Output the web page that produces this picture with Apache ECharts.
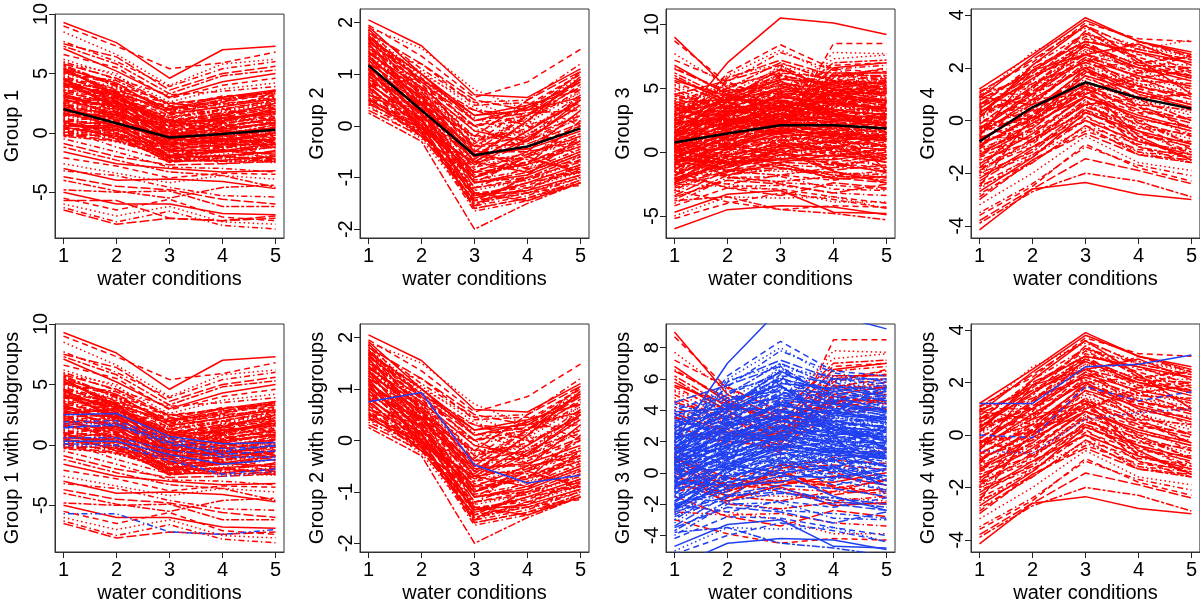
<!DOCTYPE html>
<html>
<head>
<meta charset="utf-8">
<script src="https://cdn.jsdelivr.net/npm/echarts@6/dist/echarts.min.js"></script>
<style>
html,body{margin:0;padding:0;background:#fff;}
#chart{width:1200px;height:607px;}
</style>
</head>
<body>
<div id="chart"></div>
<script>
// ---------------- data ----------------
const xValues = [1, 2, 3, 4, 5];
const xLabel = 'water conditions';
const panelTitles = ['Group 1', 'Group 2', 'Group 3', 'Group 4',
  'Group 1 with subgroups', 'Group 2 with subgroups', 'Group 3 with subgroups', 'Group 4 with subgroups'];

const yTicksG1 = [-5, 0, 5, 10];
const yTicksG2 = [-2, -1, 0, 1, 2];
const yTicksG3 = [-5, 0, 5, 10];
const yTicksG4 = [-4, -2, 0, 2, 4];
const yTicksG3Sub = [-4, -2, 0, 2, 4, 6, 8];

// Group 1 profiles (not in subgroups)
const group1Lines = [
  [9.3,7.6,4.6,7.0,7.3],[9.0,7.3,5.4,5.9,6.8],[8.5,6.6,4.0,5.8,6.2],[7.7,6.0,3.9,5.4,6.0],
  [7.5,6.4,3.6,5.0,5.6],[7.3,5.8,3.3,4.8,5.3],[7.1,5.2,3.0,4.3,5.0],[6.6,5.5,2.9,4.0,4.6],
  [6.2,4.8,2.6,3.7,4.2],[6.0,4.5,3.2,3.5,3.9],
  [5.8,4.6,2.4,3.0,3.4],[5.6,3.9,2.0,2.6,3.6],[5.4,4.2,1.6,2.2,2.9],[5.2,3.6,2.2,3.1,3.3],
  [5.0,3.8,1.4,1.8,2.5],[4.8,3.2,1.8,2.4,3.0],[4.6,3.4,1.0,1.5,2.2],[4.4,2.9,1.3,2.0,2.7],
  [4.2,3.1,0.8,1.2,1.8],[4.0,2.6,1.1,1.6,2.4],[3.8,2.8,0.5,0.9,1.5],[3.6,2.3,0.9,1.4,2.0],
  [3.4,2.5,0.2,0.6,1.2],[3.2,2.0,0.6,1.1,1.7],[3.0,2.2,-0.1,0.3,0.9],[2.8,1.7,0.3,0.8,1.4],
  [2.6,1.9,-0.4,0.0,0.6],[2.4,1.4,0.0,0.5,1.1],[2.2,1.6,-0.7,-0.3,0.3],[2.0,1.1,-0.3,0.2,0.8],
  [1.8,1.3,-1.0,-0.6,0.0],[1.6,0.8,-0.6,-0.1,0.5],[1.4,1.0,-1.3,-0.9,-0.3],[1.2,0.5,-0.9,-0.4,0.2],
  [1.0,0.7,-1.6,-1.2,-0.6],[0.8,0.2,-1.2,-0.7,-0.1],[0.6,0.4,-1.9,-1.5,-0.9],[0.4,-0.1,-1.5,-1.0,-0.4],
  [0.2,0.1,-2.2,-1.8,-1.2],[0.0,-0.4,-1.8,-1.3,-0.7],[-0.2,-0.2,-2.5,-2.1,-1.5],[-0.3,-0.7,-2.1,-1.6,-1.0],
  [5.5,3.0,-0.5,1.0,2.0],[3.5,1.0,-2.0,-1.0,0.5],[1.5,2.5,1.5,2.8,3.5],[0.5,1.5,0.8,2.0,2.8],
  [4.5,2.0,-1.0,-0.5,-0.8],[2.5,0.0,-2.3,-2.4,-2.3],[1.0,-0.5,-1.0,1.5,2.5],[3.9,3.5,2.5,2.0,1.0],
  [5.9,5.0,1.2,0.5,-0.5],[0.3,-1.2,-2.4,-1.9,-2.5],[2.3,2.5,1.0,1.0,-1.5],
  [5.7,4.0,1.9,2.8,3.5],[5.3,3.3,0.5,1.2,1.6],[5.1,4.1,2.5,2.9,3.1],[4.9,3.0,0.2,0.8,1.3],
  [4.7,3.7,2.1,2.7,3.4],[4.5,2.7,-0.3,0.4,0.8],[4.3,3.5,1.7,2.5,2.8],[4.1,2.4,-0.6,0.0,0.4],
  [3.9,3.0,1.5,2.2,3.2],[3.7,2.1,-0.9,-0.3,0.1],[3.5,2.9,1.2,1.9,2.6],[3.3,1.8,-1.2,-0.7,-0.2],
  [3.1,2.6,0.9,1.7,2.3],[2.9,1.5,-1.4,-1.0,-0.5],[2.7,2.3,0.7,1.3,2.1],[2.5,1.2,-1.7,-1.3,-0.9],
  [2.3,2.0,0.4,1.0,1.9],[2.1,0.9,-1.9,-1.6,-1.2],[1.9,1.8,0.1,0.7,1.6],[1.7,0.6,-2.1,-1.9,-1.6],
  [1.5,1.5,-0.2,0.4,1.3],[1.3,0.3,-2.3,-2.2,-1.9],[1.1,1.2,-0.5,0.1,1.0],[0.9,0.0,-2.0,-2.0,-2.2],
  [0.7,0.9,-0.8,-0.2,0.7],[0.5,-0.3,-2.4,-2.3,-2.0],[0.3,0.6,-1.1,-0.5,0.4],[0.1,-0.5,-2.3,-2.0,-1.7],
  [-0.1,0.3,-1.4,-0.8,0.1],[-0.2,-0.6,-2.0,-1.4,-2.2],[5.0,4.4,2.3,1.5,0.6],[4.0,3.3,2.0,3.0,3.6],
  [3.0,2.7,1.9,2.6,3.3],[2.0,2.2,1.3,2.3,3.0],[1.0,1.4,0.6,1.5,2.2],[0.0,0.8,-0.3,0.9,1.8],
  [5.4,3.4,0.0,-0.5,-1.0],[4.2,2.2,-1.5,-1.5,-1.8],[3.2,1.4,-2.2,-2.0,-2.4],[2.2,0.5,-2.5,-1.2,-0.2],
  [1.2,-0.2,-1.7,0.5,1.2],[4.6,2.5,-0.8,-1.2,-0.6],[3.6,3.2,0.0,-0.2,-1.3],[2.6,2.9,1.0,0.2,-0.9],
  [1.6,1.0,-0.1,-0.9,-2.0],[0.6,-0.8,-1.6,-2.4,-2.5],
  [-0.5,-1.6,-2.9,-3.0,-3.3],[-0.9,-2.0,-2.7,-2.6,-2.4],[-1.2,-2.3,-3.3,-3.6,-4.6],[-1.6,-2.6,-3.0,-3.3,-3.2],
  [-2.1,-2.8,-3.8,-3.4,-3.5],[-2.6,-3.4,-4.2,-3.6,-3.9],[-3.2,-3.6,-4.6,-5.3,-5.4],[-3.7,-4.5,-4.8,-5.6,-6.0],
  [-4.8,-5.0,-4.9,-6.2,-6.2],[-5.0,-6.0,-6.0,-6.8,-6.9],[-5.5,-6.5,-5.6,-7.1,-7.4],[-6.0,-7.0,-6.2,-7.5,-7.7],
  [-6.3,-7.5,-6.6,-7.8,-8.1],[-6.5,-7.7,-7.2,-7.4,-7.2],[-4.0,-4.9,-5.5,-4.6,-4.4],[-3.0,-4.0,-3.9,-4.1,-4.7]
];
const group1SubLines = [
  [2.5,2.6,0.7,0.1,0.2],[1.9,2.0,0.5,-0.3,-0.1],[1.7,1.8,0.3,-0.5,-0.1],[1.5,1.6,0.0,-0.6,0.0],
  [1.4,1.7,0.2,-0.8,-0.5],[0.6,0.6,-0.4,-1.0,-1.0],[0.3,0.3,-0.8,-1.6,-1.2],[0.1,0.0,-1.3,-2.4,-2.0],
  [-0.1,-0.1,-1.0,-2.6,-2.2],[-5.7,-5.7,-7.2,-7.4,-7.0]
];
const group1Mean = [2.0, 0.8, -0.4, -0.1, 0.25];

// Group 2
const group2Lines = [
  [2.05,1.55,0.6,0.55,1.1],[1.95,1.35,0.55,0.85,1.48],[1.9,1.5,0.7,0.3,0.5],[1.85,1.1,0.45,0.5,1.2],
  [1.8,1.2,0.5,0.3,0.9],[1.75,0.9,0.3,0.2,1.05],[1.7,1.0,0.2,0.4,0.7],[1.65,0.8,0.0,0.1,0.8],
  [1.6,1.05,0.35,0.0,0.4],[1.55,0.7,-0.2,-0.1,0.6],[1.5,0.85,0.1,0.25,0.3],[1.45,0.6,-0.4,-0.2,0.2],
  [1.4,0.75,-0.1,-0.3,0.5],[1.35,0.5,-0.6,-0.4,0.0],[1.3,0.65,-0.3,0.05,0.1],[1.25,0.4,-0.8,-0.6,-0.2],
  [1.2,0.55,-0.5,-0.5,-0.3],[1.15,0.3,-1.0,-0.7,-0.4],[1.1,0.45,-0.7,-0.9,-0.5],[1.05,0.2,-1.2,-1.0,-0.7],
  [1.0,0.35,-0.9,-0.8,-0.6],[0.95,0.1,-1.3,-1.2,-0.8],[0.9,0.25,-1.1,-0.6,-0.9],[0.85,0.0,-1.5,-1.3,-1.0],
  [0.8,0.15,-1.4,-1.1,-0.75],[0.75,-0.05,-1.6,-1.4,-1.1],[0.7,0.05,-1.25,-0.4,0.2],[0.65,-0.1,-1.65,-1.45,-1.05],
  [0.6,0.1,-1.1,-0.9,-0.5],[0.55,-0.2,-1.45,-1.0,-0.6],[0.5,-0.05,-0.9,-0.5,0.3],[0.45,-0.15,-1.3,-1.3,-1.15],
  [0.4,-0.25,-1.55,-1.2,-0.9],[0.35,-0.1,-0.8,-0.3,0.6],[0.3,-0.2,-1.0,-0.7,-0.3],[0.25,-0.3,-2.0,-1.5,-1.1],
  [1.6,0.4,-0.6,0.1,0.95],[1.0,0.6,0.0,0.35,1.0],[1.3,0.9,0.15,-0.2,-0.7],[0.9,0.5,-0.2,-0.3,0.25],
  [1.7,0.2,-0.9,-0.75,0.1],[0.6,0.3,-0.4,0.2,0.75],[1.2,-0.1,-1.35,-1.25,-0.95],[1.4,1.2,0.4,0.45,0.0],
  [0.8,0.7,-0.3,-0.1,-0.45],[1.85,0.6,-0.7,-0.2,0.55],[1.1,0.0,-1.55,-0.95,-0.2],[0.5,0.45,-0.6,-0.65,-0.85],
  [1.92,1.0,0.1,0.35,0.85],[1.88,0.8,-0.3,-0.05,0.45],[1.82,0.95,-0.1,0.15,0.65],[1.78,0.7,-0.5,-0.3,0.15],
  [1.72,0.85,0.0,0.2,0.9],[1.68,0.6,-0.7,-0.55,-0.15],[1.62,0.9,0.2,0.3,0.55],[1.58,0.5,-0.85,-0.7,-0.35],
  [1.52,0.75,-0.25,-0.15,0.35],[1.48,0.45,-1.05,-0.85,-0.45],[1.42,0.65,-0.4,-0.35,0.05],[1.38,0.35,-1.2,-1.05,-0.65],
  [1.32,0.55,-0.55,-0.45,-0.1],[1.28,0.25,-1.35,-1.15,-0.8],[1.22,0.45,-0.75,-0.6,-0.25],[1.18,0.15,-1.45,-1.3,-0.95],
  [1.12,0.35,-0.95,-0.75,-0.4],[1.08,0.05,-1.6,-1.4,-1.05],[1.02,0.25,-1.1,-0.95,-0.55],[0.98,0.0,-1.5,-1.2,-0.85],
  [0.92,0.15,-1.25,-1.05,-0.7],[0.88,-0.1,-1.55,-1.35,-1.0],[0.82,0.1,-1.0,-0.55,-0.2],[0.78,-0.15,-1.35,-1.1,-0.9],
  [0.72,0.0,-0.75,-0.25,0.4],[0.68,-0.2,-1.45,-1.25,-0.75],[0.62,0.05,-0.6,0.05,0.65],[0.58,-0.15,-1.2,-0.8,-0.3],
  [0.52,0.0,-0.5,0.2,0.85],[0.48,-0.2,-1.0,-0.6,0.0],[0.42,-0.05,-0.7,-0.1,0.5],[1.75,0.55,-0.35,0.4,1.0],
  [1.45,0.35,-0.45,0.3,0.95],[1.15,0.2,-0.65,0.1,0.7],[0.95,0.4,-0.2,0.5,1.05],[1.55,0.3,-1.1,-1.0,-0.9],
  [1.35,0.1,-1.3,-1.45,-1.1],[1.25,0.7,0.3,0.0,-0.6],[1.65,1.0,0.45,0.1,-0.3],[0.85,0.45,0.0,-0.45,-1.0]
];
const group2SubLines = [
  [0.75,0.93,-0.48,-0.83,-0.68]
];
const group2Mean = [1.17, 0.3, -0.57, -0.4, -0.05];

// Group 3 profiles outside the subgroups
const group3OtherLines = [
  [9.0,5.0,3.5,4.5,4.0],[8.7,5.4,4.0,5.5,5.0],[7.7,5.2,4.5,7.3,7.6],[6.6,4.6,3.0,6.0,6.5],
  [6.5,4.8,2.5,5.5,6.0],[6.2,4.2,3.8,7.0,7.2],[5.8,4.0,2.0,5.0,5.5],[5.5,3.8,1.2,8.5,8.5],
  [5.2,3.5,3.6,7.8,7.7],[4.8,3.2,2.8,6.5,6.8],[4.5,3.6,2.2,4.8,5.2],[4.2,3.0,1.5,4.2,4.6],
  [3.8,2.6,1.8,6.2,6.2],[3.5,2.4,2.5,5.8,6.6],[3.2,2.8,1.0,4.0,4.2],[2.8,2.2,3.0,5.2,5.8],
  [2.5,2.0,1.6,3.8,4.1],[6.0,3.9,2.6,5.6,5.4],[5.6,4.4,3.2,6.6,7.0],[5.0,3.3,2.4,6.0,6.3],
  [4.6,3.1,1.9,5.3,5.6],[4.0,2.7,2.2,4.5,5.0],[3.6,2.2,1.4,4.9,4.4],[3.0,1.8,2.6,4.4,4.8],
  [6.8,4.5,3.3,4.6,4.6],[7.2,5.5,3.9,6.8,7.0],[5.3,4.0,4.2,5.9,6.0],
  [0.5,-1.2,-0.3,1.0,1.5],[0.0,-1.5,0.3,0.5,0.2],[1.0,-1.0,0.0,-1.0,-0.5],[-0.5,-1.8,-0.8,-0.2,-0.8],
  [0.8,-0.5,0.5,0.0,-0.6],[-1.0,-1.4,-1.5,-1.6,-1.8],[1.5,-0.8,-1.0,-1.2,-1.3],[-0.3,-0.9,0.2,-1.4,-1.0],
  [1.2,-1.6,0.5,0.8,0.6],[0.3,-0.8,-0.5,-0.6,0.0],[-0.8,-1.2,0.0,-0.9,-1.2],[0.6,-1.9,-0.2,0.4,-0.2],
  [-1.2,-0.6,-1.2,-1.8,-1.5],[1.8,-1.1,-0.6,-0.8,-1.6],[-0.2,-1.5,-1.8,-1.2,-0.4],[0.9,-0.3,-0.9,-2.1,-1.9],
  [-3.0,-3.9,-4.5,-4.2,-4.3],[-2.0,-2.5,-3.0,-3.9,-3.9],[-2.5,-2.7,-2.6,-3.2,-3.4],[-1.5,-2.8,-3.4,-2.4,-2.8],
  [0.2,-2.0,-2.3,-1.9,-2.0]
];
// Group 3 profiles inside the subgroups
const group3SubLines = [
  [2.0,7.0,10.5,10.1,9.2],[1.5,6.2,8.4,6.5,6.2],[1.0,6.0,8.0,6.0,5.5],[2.5,5.5,7.8,6.4,5.8],
  [0.5,5.8,7.2,6.0,6.0],[3.0,5.0,7.0,5.5,5.3],
  [-4.7,-3.3,-3.0,-4.7,-4.8],[-4.2,-2.8,-2.9,-3.5,-4.0],[-5.0,-3.5,-3.6,-3.5,-4.4],[-4.0,-2.0,-1.9,-2.9,-3.0],
  [-3.5,-2.2,-2.5,-3.2,-2.5],[-3.8,-3.5,-4.5,-4.8,-5.3],[-6.0,-4.5,-4.2,-4.3,-4.9],[-5.2,-4.0,-3.2,-3.7,-4.4],
  [3.5,4.5,5.8,4.8,4.2],[3.0,4.0,6.5,5.6,5.0],[2.8,4.8,5.2,4.0,3.5],[2.6,3.6,6.0,5.2,5.6],
  [2.4,4.2,4.8,4.4,3.8],[2.2,3.2,5.5,3.8,4.5],[2.0,3.8,4.4,5.0,3.0],[1.8,2.8,5.0,4.2,4.0],
  [1.6,3.4,4.0,3.4,2.6],[1.4,2.4,4.6,3.0,3.6],[1.2,3.0,3.6,4.0,3.2],[1.0,2.0,4.2,2.8,2.4],
  [0.9,2.6,3.2,3.6,2.8],[0.8,1.6,3.8,2.4,3.0],[0.6,2.2,2.8,3.2,2.0],[0.5,1.2,3.4,2.0,2.6],
  [0.4,1.8,2.4,2.8,1.6],[0.2,0.8,3.0,1.6,2.2],[0.0,1.4,2.0,2.4,1.2],[-0.2,0.4,2.6,1.2,1.8],
  [-0.4,1.0,1.6,2.0,0.8],[-0.6,0.0,2.2,0.8,1.4],[-0.8,0.6,1.2,1.6,0.4],[-1.0,-0.4,1.8,0.4,1.0],
  [-1.2,0.2,0.8,1.2,0.0],[-1.5,-0.8,1.4,0.0,0.6],[-1.8,-0.2,0.4,0.8,-0.4],[-2.1,-1.2,1.0,-0.4,0.2],
  [-2.4,-0.6,0.0,0.4,-0.8],[-2.8,-1.6,0.6,-0.8,-0.2],[-3.2,-1.0,-0.4,0.0,-1.2],[4.0,5.2,6.2,5.8,4.8],
  [4.5,5.6,6.8,4.6,5.2],[3.8,2.0,3.0,1.8,1.0],[1.2,4.6,5.6,3.0,2.0],[0.2,3.0,4.5,4.6,5.4],
  [-0.5,2.5,3.5,5.4,5.8],[2.0,1.0,1.5,3.5,4.8],[-1.0,1.5,4.8,2.5,-1.5],[0.8,-1.5,-1.0,-1.8,-2.2],
  [1.8,0.5,0.0,-1.5,-2.4],[-2.0,-2.5,-1.8,-2.2,-1.6],[3.0,1.5,2.0,0.5,-0.5],[0.0,3.5,6.3,2.0,1.5],
  [1.1,4.0,5.3,5.1,4.6],[-0.3,2.2,3.9,3.3,3.4],[2.3,2.6,2.2,1.4,1.1],[-1.4,0.9,2.9,2.6,2.2],
  [4.2,4.8,5.4,4.4,3.6],[3.8,3.6,4.9,5.0,4.4],[3.3,4.3,6.1,4.6,3.9],[3.1,3.2,4.3,3.7,3.1],
  [2.9,4.1,5.7,5.4,4.9],[2.7,3.0,3.9,3.2,2.9],[2.5,3.7,5.1,4.7,4.3],[2.3,2.7,3.7,2.9,2.5],
  [2.1,3.5,4.7,4.1,4.1],[1.9,2.5,3.3,2.6,2.1],[1.7,3.1,4.3,3.8,3.5],[1.5,2.2,3.1,2.3,1.9],
  [1.3,2.8,3.9,3.5,3.3],[1.1,1.9,2.7,2.1,1.6],[0.9,2.4,3.6,3.1,3.0],[0.7,1.6,2.5,1.8,1.3],
  [0.6,2.1,3.3,2.9,2.7],[0.4,1.3,2.2,1.5,1.0],[0.3,1.8,3.1,2.6,2.4],[0.1,1.0,1.9,1.3,0.7],
  [-0.1,1.5,2.8,2.3,2.1],[-0.3,0.7,1.6,1.0,0.4],[-0.5,1.2,2.4,2.0,1.9],[-0.7,0.4,1.3,0.7,0.1],
  [-0.9,0.9,2.1,1.7,1.6],[-1.1,0.1,1.0,0.5,-0.2],[-1.3,0.6,1.8,1.4,1.3],[-1.6,-0.3,0.7,0.2,-0.5],
  [-1.9,0.3,1.5,1.1,1.0],[-2.2,-0.7,0.3,-0.1,-0.8],[-2.6,-0.1,1.1,0.7,0.6],[-3.0,-0.9,0.2,-0.5,-1.1],
  [-3.4,-1.4,-0.8,-1.0,-1.5],[-3.7,-1.8,-1.3,-1.6,-2.0],[1.6,4.2,6.5,4.9,4.0],[0.6,3.6,5.9,4.4,3.6],
  [2.8,5.9,6.9,5.9,5.2],[-0.2,3.2,5.2,4.3,5.0],[3.4,2.4,2.1,3.9,5.5],[1.0,0.3,-0.2,1.8,3.0],
  [-0.6,-0.8,-0.6,0.3,1.4],[2.6,1.0,0.6,2.3,3.8],[0.4,4.0,6.8,3.8,2.8],[-1.5,-1.9,-2.4,-2.6,-2.9],
  [-2.5,-1.5,-1.2,-2.0,-2.4],
  [1.5,2.9,4.5,3.9,3.4],[1.2,2.3,3.5,3.3,2.9],[0.9,1.7,3.7,2.7,2.3],[0.6,2.5,4.1,3.5,3.2],
  [0.3,1.4,2.9,2.2,1.8],[0.0,2.0,3.6,3.0,2.6],[-0.3,1.1,2.3,1.9,1.5],[-0.6,1.7,3.0,2.5,2.3],
  [-0.9,0.5,1.9,1.2,0.9],[-1.2,1.0,2.5,2.1,1.8],[-1.5,0.2,1.2,0.8,0.5],[-1.8,0.8,2.3,1.6,1.2],
  [-2.1,-0.4,0.8,0.3,-0.2],[-2.4,0.4,1.7,1.3,0.9],[-2.7,-0.6,0.5,0.1,-0.5],[-3.0,-0.2,1.3,0.9,0.4],
  [2.2,4.4,6.0,5.3,4.7],[1.9,3.9,5.5,4.5,3.9],[1.3,3.3,5.0,4.1,3.7],[0.7,2.8,4.4,3.7,3.4],
  [3.6,5.0,6.4,5.2,4.6],[2.4,2.1,2.6,2.9,3.3],[1.6,1.3,1.7,2.2,2.7],[0.2,0.2,0.9,1.4,2.0],
  [-0.8,-0.2,0.6,0.9,1.2],[-2.0,-1.0,-0.2,-0.3,0.3],[3.2,3.9,5.0,6.0,5.7],[2.0,4.6,6.6,6.2,5.9],
  [-1.0,2.0,4.0,3.6,4.2],[-2.3,0.0,2.6,2.4,2.8],[4.4,3.4,3.4,2.8,2.2],[3.9,4.1,4.0,3.0,1.5]
];
const group3Mean = [0.75, 1.45, 2.1, 2.1, 1.85];

// Group 4
const group4Lines = [
  [1.2,2.5,3.9,3.0,2.5],[1.1,2.2,3.7,3.1,3.0],[0.9,2.6,3.5,2.8,2.4],[0.8,1.8,3.3,2.5,2.2],
  [0.6,2.0,3.0,2.6,1.9],[0.5,1.5,3.4,2.2,2.4],[0.3,1.6,2.8,2.0,1.5],[0.2,1.2,3.1,2.4,1.8],
  [0.0,1.4,2.6,1.6,1.2],[-0.1,0.9,2.9,1.8,2.0],[-0.3,1.1,2.4,1.3,0.8],[-0.4,0.6,2.2,1.5,1.4],
  [-0.5,0.8,2.0,1.0,0.5],[-0.7,0.3,1.8,1.2,1.0],[-0.8,0.5,1.5,0.7,0.2],[-0.9,0.0,1.6,0.9,0.7],
  [-1.0,0.2,1.2,0.4,-0.1],[-1.2,-0.3,1.3,0.6,0.4],[-1.3,-0.1,0.9,0.1,-0.4],[-1.4,-0.6,1.0,0.3,0.1],
  [-1.6,-0.4,0.6,-0.2,-0.7],[-1.7,-0.9,0.7,0.0,-0.2],[-1.9,-0.7,0.3,-0.5,-1.0],[-2.0,-1.2,0.4,-0.3,-0.5],
  [-2.2,-1.0,0.0,-0.8,-1.3],[-2.4,-1.4,0.1,-0.6,-0.8],[-2.6,-1.3,-0.3,-1.2,-1.6],[-2.8,-1.6,-0.2,-0.9,-1.1],
  [-3.0,-1.5,-0.5,-1.3,-1.5],[0.4,0.8,1.0,1.8,2.5],[-0.6,1.9,2.5,2.9,2.1],[1.0,1.0,2.0,0.5,-0.3],
  [-1.5,0.8,2.6,1.0,-0.6],[0.7,0.4,0.6,-0.4,-1.2],[-2.5,0.2,2.0,2.2,1.6],[-0.2,-0.8,0.8,-1.0,-1.4],
  [0.1,2.1,3.6,2.3,1.0],[-1.1,1.3,3.0,1.9,1.7],[-2.1,-0.2,1.9,1.4,0.9],[0.5,0.0,1.4,-0.1,-0.9],
  [1.05,2.3,3.6,2.7,2.3],[0.95,1.7,2.9,2.1,1.6],[0.85,2.4,3.8,3.0,2.6],[0.75,1.9,3.2,2.3,1.7],
  [0.65,1.3,2.7,1.9,1.3],[0.55,2.1,3.3,2.7,2.3],[0.45,1.7,2.5,1.6,0.9],[0.35,1.0,2.9,2.1,2.0],
  [0.25,1.9,3.0,2.6,2.2],[0.15,1.1,2.3,1.2,0.6],[0.05,1.6,2.7,2.2,2.1],[-0.05,0.7,2.1,1.1,0.4],
  [-0.15,1.3,2.5,2.0,1.7],[-0.25,0.4,1.9,0.8,0.0],[-0.35,1.0,2.3,1.7,1.3],[-0.45,0.2,1.7,0.6,-0.3],
  [-0.55,0.7,2.1,1.4,1.1],[-0.65,0.0,1.4,0.3,-0.6],[-0.75,0.4,1.9,1.3,0.9],[-0.85,-0.2,1.1,0.0,-0.9],
  [-0.95,0.1,1.7,1.1,0.6],[-1.05,-0.4,0.9,-0.2,-1.1],[-1.15,-0.1,1.4,0.8,0.3],[-1.25,-0.6,0.6,-0.4,-1.3],
  [-1.35,-0.3,1.2,0.5,0.0],[-1.5,-0.8,0.4,-0.7,-1.5],[-1.65,-0.5,0.9,0.2,-0.3],[-1.8,-1.0,0.2,-1.0,-1.6],
  [-1.95,-0.8,0.7,0.1,-0.4],[-2.1,-1.3,0.0,-1.2,-1.4],[-2.3,-1.1,0.5,-0.1,-0.6],[-2.5,-1.6,-0.2,-1.3,-1.6],
  [-2.7,-1.4,0.3,-0.4,-0.9],[-2.9,-1.5,-0.4,-1.1,-1.3],[-1.0,1.2,3.2,2.8,2.5],[-2.0,0.6,2.4,1.8,1.2],
  [0.6,1.4,2.2,3.0,2.4],[-0.3,0.1,1.0,1.6,1.9],[0.9,0.6,1.3,-0.6,-1.5],[-1.8,0.0,1.2,-0.8,-1.2],
  [-3.2,-2.0,-0.6,-1.6,-1.9],[-3.5,-2.4,-1.0,-1.7,-2.1],[-3.8,-2.6,-1.45,-1.9,-2.4],[-3.9,-2.7,-2.0,-2.3,-2.9],
  [-4.15,-2.6,-2.35,-2.8,-3.0],[-3.6,-2.5,-0.9,-1.8,-2.3]
];
const group4SubLines = [
  [1.2,1.2,2.6,2.7,3.05],[0.0,-0.1,1.85,1.3,1.65],[-0.6,-0.7,0.6,0.85,1.0]
];
const group4Mean = [-0.8, 0.5, 1.45, 0.85, 0.45];

// ---------------- layout / style ----------------
const RED = '#ff0000', BLUE = '#2040f0', BLACK = '#000000';
const FONT = '"Liberation Sans", Arial, Helvetica, sans-serif';
const dashes = ['solid', [6, 4], [1.5, 3], [1.5, 3, 6, 3], [10, 3], [3, 2, 8, 2]];

const panels = [
  {left: 55,  top: 10,  red: group1Lines.concat(group1SubLines), blue: [], mean: group1Mean, ymin: -8.86, ymax: 10, ticks: yTicksG1},
  {left: 360, top: 9,   red: group2Lines.concat(group2SubLines), blue: [], mean: group2Mean, ymin: -2.17, ymax: 2.26, ticks: yTicksG2},
  {left: 666, top: 9,   red: group3OtherLines.concat(group3SubLines), blue: [], mean: group3Mean, ymin: -6.72, ymax: 11.2, ticks: yTicksG3},
  {left: 971, top: 9,   red: group4Lines.concat(group4SubLines), blue: [], mean: group4Mean, ymin: -4.46, ymax: 4.23, ticks: yTicksG4},
  {left: 55,  top: 324, red: group1Lines, blue: group1SubLines, mean: null, ymin: -8.86, ymax: 10, ticks: yTicksG1},
  {left: 360, top: 324, red: group2Lines, blue: group2SubLines, mean: null, ymin: -2.17, ymax: 2.26, ticks: yTicksG2},
  {left: 666, top: 324, red: group3OtherLines, blue: group3SubLines, mean: null, ymin: -5.06, ymax: 9.51, ticks: yTicksG3Sub},
  {left: 971, top: 324, red: group4Lines, blue: group4SubLines, mean: null, ymin: -4.46, ymax: 4.23, ticks: yTicksG4}
];

const grids = [], xAxes = [], yAxes = [], series = [];
const tickStyle = {show: true, inside: false, length: 6, lineStyle: {color: '#222', width: 1}};
const lineAxis = {show: true, onZero: false, lineStyle: {color: '#333', width: 1}};
panels.forEach((p, i) => {
  grids.push({left: p.left, top: p.top, width: 229, height: i === 0 ? 228 : (i < 4 ? 229 : 228),
    show: true, borderColor: '#333', borderWidth: 1, backgroundColor: 'transparent'});
  xAxes.push({
    type: 'value', gridIndex: i, min: 0.84, max: 5.16,
    axisLine: lineAxis, splitLine: {show: false},
    axisTick: Object.assign({}, tickStyle, {customValues: xValues}),
    axisLabel: {customValues: xValues, color: '#000', fontSize: 20, fontFamily: FONT, margin: 8},
    name: xLabel, nameLocation: 'middle', nameGap: 31,
    nameTextStyle: {color: '#000', fontSize: 20, fontFamily: FONT}
  });
  yAxes.push({
    type: 'value', gridIndex: i, min: p.ymin, max: p.ymax,
    axisLine: lineAxis, splitLine: {show: false},
    axisTick: Object.assign({}, tickStyle, {customValues: p.ticks}),
    axisLabel: {customValues: p.ticks, rotate: 90, color: '#000', fontSize: 20, fontFamily: FONT, margin: 4},
    name: panelTitles[i], nameLocation: 'middle', nameGap: 33, nameRotate: 90,
    nameTextStyle: {color: '#000', fontSize: 20, fontFamily: FONT}
  });
  const addLine = (vals, color, width, type, z) => {
    series.push({
      type: 'line', xAxisIndex: i, yAxisIndex: i, silent: true, animation: false,
      showSymbol: false, symbol: 'none', clip: true, z: z,
      lineStyle: {color: color, width: width, type: type},
      data: vals.map((v, j) => [xValues[j], v])
    });
  };
  p.red.forEach((vals, k) => addLine(vals, RED, 1.5, dashes[k % dashes.length], 2));
  p.blue.forEach((vals, k) => addLine(vals, BLUE, 1.5, dashes[k % dashes.length], 3));
  if (p.mean) addLine(p.mean, BLACK, 2.5, 'solid', 4);
});

const chart = echarts.init(document.getElementById('chart'), null, {renderer: 'canvas'});
chart.setOption({
  animation: false,
  backgroundColor: '#ffffff',
  grid: grids, xAxis: xAxes, yAxis: yAxes, series: series
});
</script>
</body>
</html>
